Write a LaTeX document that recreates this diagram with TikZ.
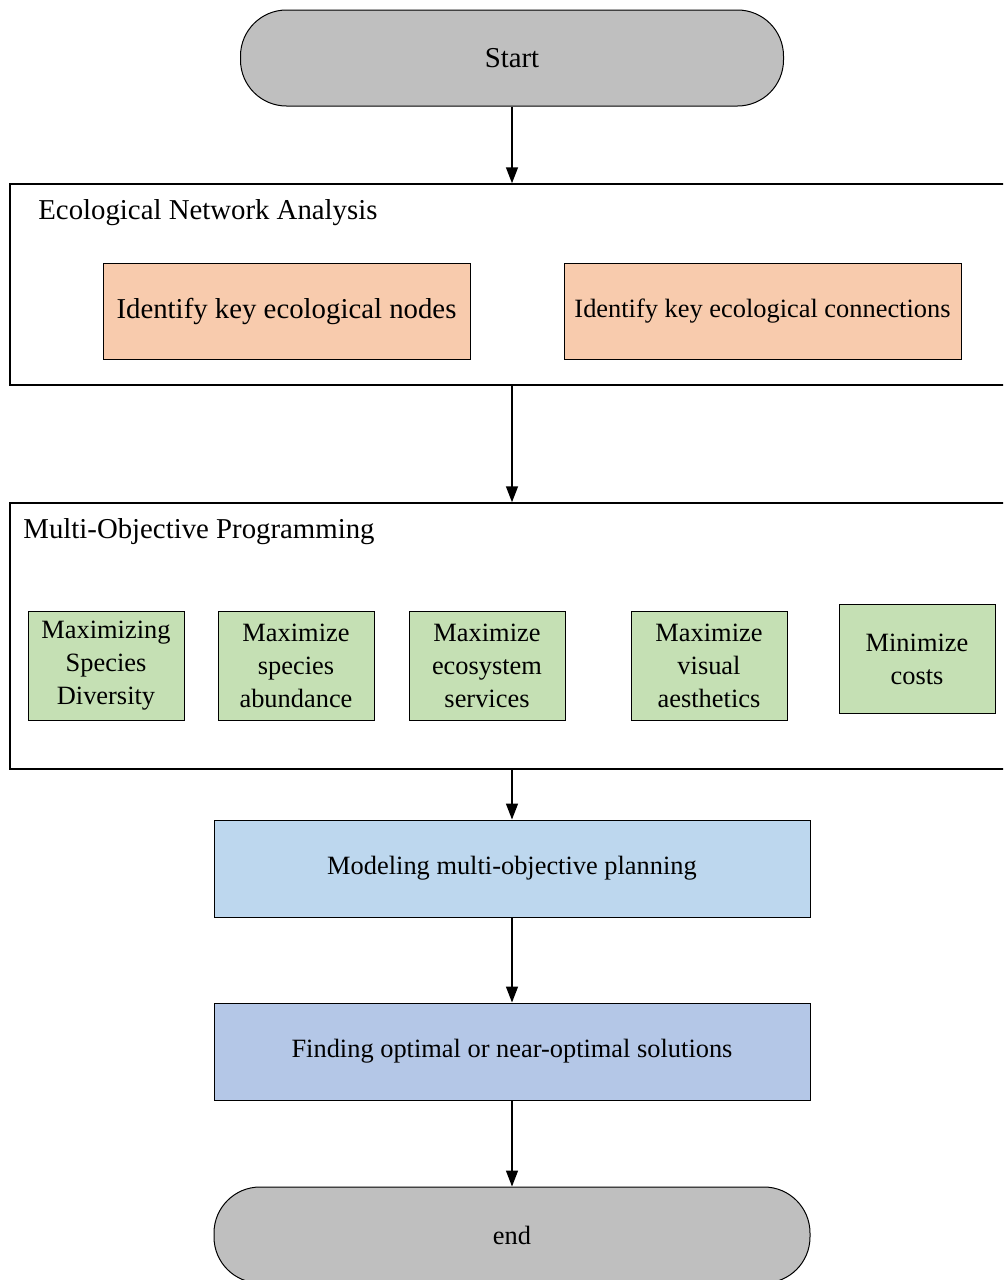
\documentclass[tikz,border=0pt]{standalone}
\usepackage{fontspec}
\setmainfont{Liberation Serif}
\usetikzlibrary{arrows.meta}
\definecolor{termgray}{HTML}{BFBFBF}
\definecolor{taskorange}{HTML}{F8CBAD}
\definecolor{goalgreen}{HTML}{C5E0B4}
\definecolor{modelblue}{HTML}{BDD7EE}
\definecolor{solveblue}{HTML}{B4C7E7}
\begin{document}
\begin{tikzpicture}[x=0.5pt,y=-0.5pt,
    box/.style={draw=black, line width=0.5pt, inner sep=0pt, align=center, font=\fontsize{13.2}{16.5}\selectfont},
    big/.style={font=\fontsize{14.4}{16.5}\selectfont},
    term/.style={box, fill=termgray, rounded corners=23pt, minimum width=271.5pt, minimum height=48pt},
    task/.style={box, fill=taskorange, minimum height=48pt},
    goal/.style={box, fill=goalgreen, minimum width=78pt, minimum height=54.5pt},
    wide/.style={box, minimum width=298pt, minimum height=48.5pt},
    frame/.style={draw=black, line width=0.75pt, inner sep=0pt, minimum width=502pt},
    title/.style={big, anchor=west, inner sep=0pt},
    flow/.style={-{Triangle[length=8pt,width=6pt]}, black, line width=0.75pt}]
    \clip (0,0) rectangle (1003,1280);

    \node[term, big] (start) at (512,58) {Start};

    \node[frame, minimum height=100.5pt] (ena) at (512,284.5) {};
    \node[title] (enatitle) at (38,213) {Ecological Network Analysis};
    \node[task, big, minimum width=183.5pt] (keynodes) at (286.5,311) {Identify key ecological nodes};
    \node[task, minimum width=198.5pt] (keylinks) at (762.5,311) {Identify key ecological connections};

    \node[frame, minimum height=133pt] (mop) at (512,636) {};
    \node[title] (moptitle) at (23,532) {Multi-Objective Programming};
    \node[goal] (diversity) at (106,665.5) {Maximizing\\Species\\Diversity};
    \node[goal] (abundance) at (296,665.5) {Maximize\\species\\abundance};
    \node[goal] (services) at (487,665.5) {Maximize\\ecosystem\\services};
    \node[goal] (aesthetics) at (709,665.5) {Maximize\\visual\\aesthetics};
    \node[goal] (costs) at (917,659) {Minimize\\costs};

    \node[wide, fill=modelblue] (model) at (512,868.5) {Modeling multi-objective planning};
    \node[wide, fill=solveblue] (solve) at (512,1051.5) {Finding optimal or near-optimal solutions};
    \node[term, minimum width=298pt] (end) at (512,1235) {end};

    \draw [flow] (start) -- (ena);
    \draw [flow] (ena) -- (mop);
    \draw [flow] (mop) -- (model);
    \draw [flow] (model) -- (solve);
    \draw [flow] (solve) -- (end);
\end{tikzpicture}
\end{document}
